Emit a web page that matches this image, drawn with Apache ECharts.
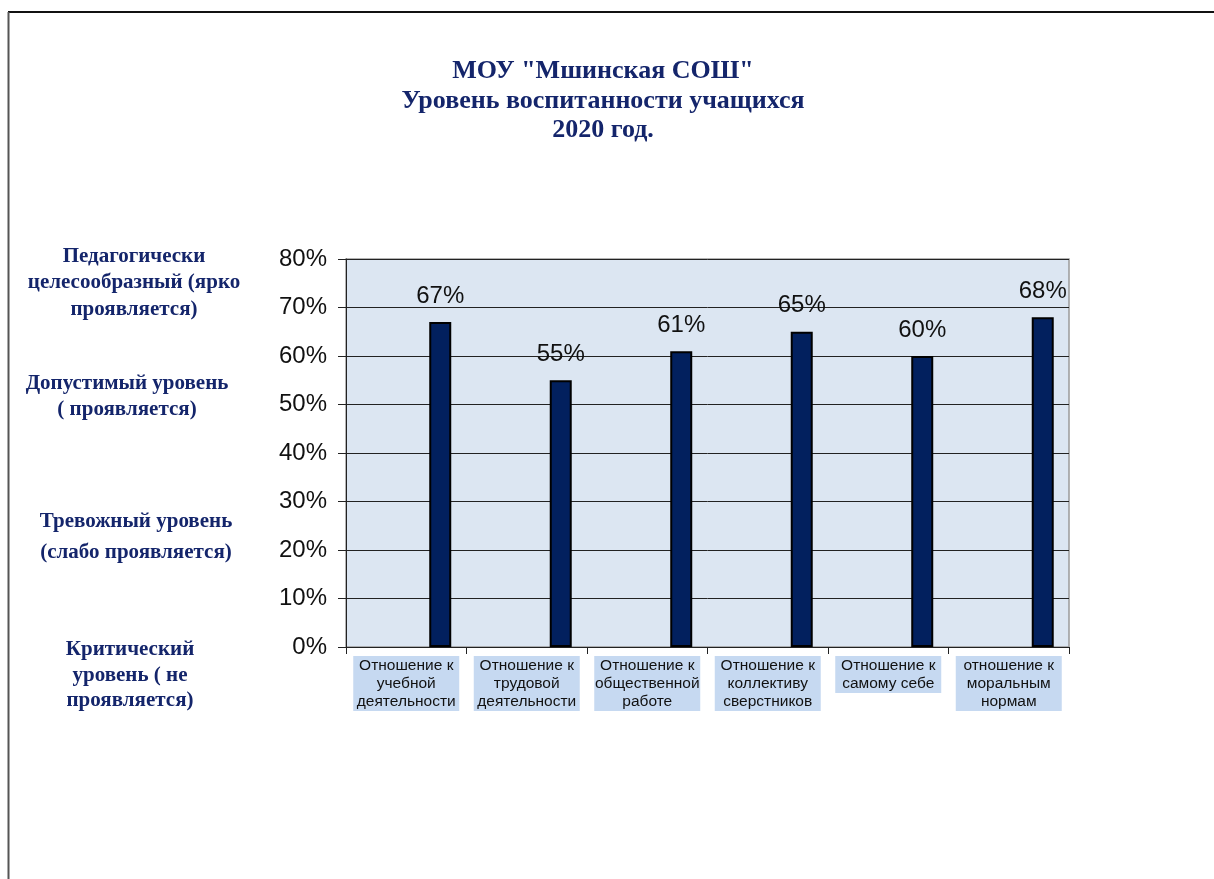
<!DOCTYPE html>
<html>
<head>
<meta charset="utf-8">
<script src="https://cdn.jsdelivr.net/npm/echarts@6/dist/echarts.min.js"></script>
<style>
html,body{margin:0;padding:0;background:#fff;}
#chart{width:1214px;height:879px;}
</style>
</head>
<body>
<div id="chart"></div>
<script>
var categories = [
  "Отношение к\nучебной\nдеятельности",
  "Отношение к\nтрудовой\nдеятельности",
  "Отношение к\nобщественной\nработе",
  "Отношение к\nколлективу\nсверстников",
  "Отношение к\nсамому себе",
  "отношение к\nморальным\nнормам"
];
var values = [67, 55, 61, 65, 60, 68];
var emptyValues = ['-', '-', '-', '-', '-', '-'];
var titleLines = "МОУ \"Мшинская СОШ\"\nУровень воспитанности учащихся\n2020 год.";
var levelLabels = [
  "Педагогически\nцелесообразный (ярко\nпроявляется)",
  "Допустимый уровень\n( проявляется)",
  "Тревожный уровень\n(слабо проявляется)",
  "Критический\nуровень ( не\nпроявляется)"
];

var navy = '#14256B';
var chart = echarts.init(document.getElementById('chart'), null, {renderer: 'canvas'});
var serif = '"Liberation Serif", "Times New Roman", serif';
var sans = '"Liberation Sans", Arial, sans-serif';

var option = {
  animation: false,
  backgroundColor: '#ffffff',
  grid: {
    left: 346, top: 259, right: 145, bottom: 232,
    show: true, backgroundColor: '#DCE6F2', borderColor: '#9A9A9A', borderWidth: 1.5
  },
  xAxis: {
    type: 'category',
    data: categories,
    axisLine: {lineStyle: {color: '#222', width: 1}},
    axisTick: {show: true, length: 7, lineStyle: {color: '#222'}},
    axisLabel: {
      interval: 0,
      margin: 9,
      fontFamily: sans,
      fontSize: 15.5,
      lineHeight: 18,
      color: '#111',
      backgroundColor: '#C6D9F1',
      padding: [1, 1, 0, 1],
      width: 104,
      align: 'center'
    }
  },
  yAxis: {
    type: 'value',
    min: 0, max: 80, interval: 10,
    axisLine: {show: true, lineStyle: {color: '#222', width: 1}},
    axisTick: {show: true, length: 8, lineStyle: {color: '#222'}},
    axisLabel: {formatter: '{value}%', fontFamily: sans, fontSize: 24, color: '#111', margin: 19},
    splitLine: {show: true, lineStyle: {color: '#222', width: 1}}
  },
  series: [
    {
      type: 'bar',
      data: emptyValues,
      barWidth: 22,
      silent: true
    },
    {
      type: 'bar',
      data: values,
      barWidth: 22,
      barGap: '209%',
      itemStyle: {color: '#02205E', borderColor: '#000', borderWidth: 2},
      label: {
        show: true, position: 'top', distance: 14,
        formatter: '{c}%', fontFamily: sans, fontSize: 24, color: '#111'
      }
    }
  ],
  graphic: [
    {type: 'line', shape: {x1: 8, y1: 12, x2: 1214, y2: 12}, style: {stroke: '#111', lineWidth: 2}},
    {type: 'line', shape: {x1: 8.5, y1: 12, x2: 8.5, y2: 879}, style: {stroke: '#555', lineWidth: 2}},
    {type: 'text', x: 603, y: 57, style: {text: titleLines, font: 'bold 26px ' + serif, fill: navy, textAlign: 'center', textVerticalAlign: 'top', lineHeight: 29.5}},
    {type: 'text', x: 134, y: 243, style: {text: levelLabels[0], font: 'bold 21px ' + serif, fill: navy, textAlign: 'center', textVerticalAlign: 'top', lineHeight: 26.5}},
    {type: 'text', x: 127, y: 371, style: {text: levelLabels[1], font: 'bold 21px ' + serif, fill: navy, textAlign: 'center', textVerticalAlign: 'top', lineHeight: 26}},
    {type: 'text', x: 136, y: 506, style: {text: levelLabels[2], font: 'bold 21px ' + serif, fill: navy, textAlign: 'center', textVerticalAlign: 'top', lineHeight: 31}},
    {type: 'text', x: 130, y: 637, style: {text: levelLabels[3], font: 'bold 21px ' + serif, fill: navy, textAlign: 'center', textVerticalAlign: 'top', lineHeight: 25.5}}
  ]
};
chart.setOption(option);
</script>
</body>
</html>
